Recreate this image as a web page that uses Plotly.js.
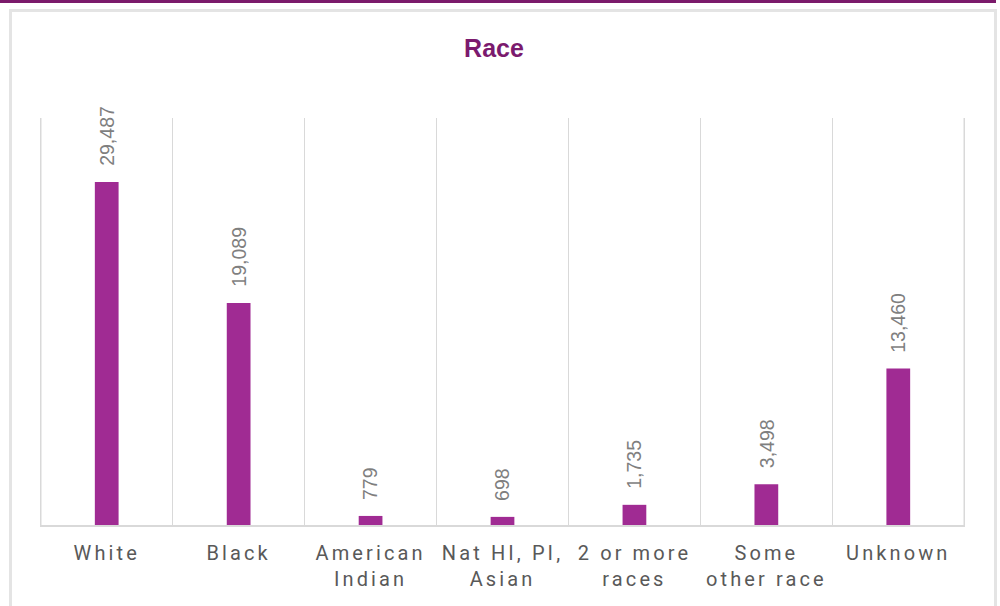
<!DOCTYPE html>
<html>
<head>
<meta charset="utf-8">
<script src="https://cdn.plot.ly/plotly-3.0.1.min.js"></script>
<style>
  html, body { margin: 0; padding: 0; background: #ffffff; width: 1000px; height: 606px; overflow: hidden; }
  #topbar { position: absolute; left: 0; top: 0; width: 996px; height: 3px; background: #7b1a6b; }
  #frame { position: absolute; left: 9px; top: 9px; width: 982px; height: 620px; border: 3px solid #e4e4e4; }
  #chart { position: absolute; left: 0; top: 0; width: 1000px; height: 606px; }
  .xtick text { letter-spacing: 3.1px; }
</style>
</head>
<body>
<div id="topbar"></div>
<div id="frame"></div>
<div id="chart"></div>
<script>
const categories = ["White", "Black", "American<br>Indian", "Nat HI, PI,<br>Asian", "2 or more<br>races", "Some<br>other race", "Unknown"];
const counts = [29487, 19089, 779, 698, 1735, 3498, 13460];

const barTrace = {
  type: "bar",
  x: categories,
  y: counts,
  width: 0.18,
  marker: { color: "#a02b93" },
  hoverinfo: "x+y"
};

const labels = categories.map((c, i) => ({
  x: c,
  y: counts[i],
  xref: "x",
  yref: "y",
  text: counts[i].toLocaleString("en-US"),
  textangle: -90,
  showarrow: false,
  xanchor: "center",
  yanchor: "bottom",
  yshift: 14,
  font: { family: "Liberation Sans, Arial, sans-serif", size: 19.5, color: "#7f7f7f" }
}));

// outer boundary gridlines (left and right edges of the category band)
const edgeLines = [-0.5, categories.length - 0.5].map(xv => ({
  type: "line",
  xref: "x",
  yref: "paper",
  x0: xv, x1: xv,
  y0: 0, y1: 1,
  line: { color: "#d9d9d9", width: 1.5 },
  layer: "below"
}));

const layout = {
  width: 1000,
  height: 606,
  margin: { l: 40, r: 35, t: 118, b: 81 },
  paper_bgcolor: "rgba(0,0,0,0)",
  plot_bgcolor: "rgba(0,0,0,0)",
  showlegend: false,
  title: {
    text: "<b>Race</b>",
    x: 0.494,
    xref: "container",
    xanchor: "center",
    y: 0.92,
    yref: "container",
    yanchor: "middle",
    font: { family: "Liberation Sans, Arial, sans-serif", size: 25, color: "#7b1a6e" }
  },
  xaxis: {
    type: "category",
    tickson: "boundaries",
    showgrid: true,
    gridcolor: "#d9d9d9",
    gridwidth: 1.5,
    showline: true,
    linecolor: "#d9d9d9",
    linewidth: 2,
    ticks: "",
    ticklabelstandoff: 9,
    tickfont: { family: "Roboto, sans-serif", size: 20, color: "#595959" },
    fixedrange: true
  },
  yaxis: {
    range: [0, 35000],
    visible: false,
    showgrid: false,
    zeroline: false,
    fixedrange: true
  },
  shapes: edgeLines,
  annotations: labels
};

Plotly.newPlot("chart", [barTrace], layout, { displayModeBar: false, staticPlot: true });
</script>
</body>
</html>
